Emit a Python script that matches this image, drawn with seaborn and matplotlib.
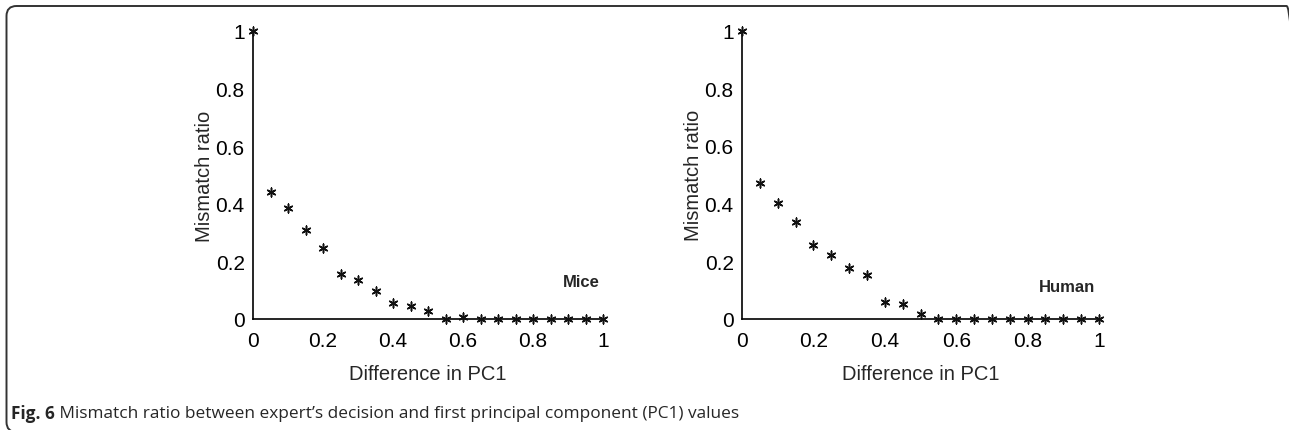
import matplotlib
matplotlib.use("Agg")
import matplotlib.pyplot as plt
from matplotlib.patches import FancyBboxPatch
from matplotlib.ticker import MultipleLocator
import seaborn as sns

# Difference in PC1 (x), shared by both panels
pc1_diff = [0.0, 0.05, 0.1, 0.15, 0.2, 0.25, 0.3, 0.35, 0.4, 0.45, 0.5,
            0.55, 0.6, 0.65, 0.7, 0.75, 0.8, 0.85, 0.9, 0.95, 1.0]

# Mismatch ratio
mice_ratio = [1.0, 0.442, 0.384, 0.31, 0.245, 0.155, 0.136, 0.097, 0.054, 0.046, 0.028,
              0.0, 0.008, 0.0, 0.0, 0.0, 0.0, 0.0, 0.0, 0.0, 0.0]
human_ratio = [1.0, 0.471, 0.401, 0.336, 0.256, 0.22, 0.174, 0.151, 0.058, 0.05, 0.015,
               0.0, 0.0, 0.0, 0.0, 0.0, 0.0, 0.0, 0.0, 0.0, 0.0]

panel_labels = ["Mice", "Human"]
label_heights = [0.13, 0.11]
x_label = "Difference in PC1"
y_label = "Mismatch ratio"
caption_bold = "Fig. 6"
caption_text = " Mismatch ratio between expert\u2019s decision and first principal component (PC1) values"

sns.set_style("white")
plt.rcParams["font.family"] = ["Liberation Sans", "DejaVu Sans"]

W, H = 1289, 431
fig = plt.figure(figsize=(W / 100, H / 100), dpi=100)


def px_axes(x0, x1, y_top, y_bot):
    return fig.add_axes([x0 / W, 1 - y_bot / H, (x1 - x0) / W, (y_bot - y_top) / H])


ax_left = px_axes(253, 603, 32, 320)
ax_right = px_axes(742, 1099, 32, 319.5)

for ax, ratio, name, ly in zip([ax_left, ax_right], [mice_ratio, human_ratio],
                               panel_labels, label_heights):
    sns.scatterplot(x=pc1_diff, y=ratio, ax=ax, marker=(6, 2, 0), color="#111111",
                    s=40, linewidth=1.1, clip_on=False, zorder=3)
    ax.set_xlim(0, 1)
    ax.set_ylim(0, 1)
    sns.despine(ax=ax)
    for side in ["left", "bottom"]:
        ax.spines[side].set_color("black")
        ax.spines[side].set_linewidth(1.2)
    ax.xaxis.set_major_locator(MultipleLocator(0.2))
    ax.xaxis.set_minor_locator(MultipleLocator(0.1))
    ax.yaxis.set_major_locator(MultipleLocator(0.2))
    ax.yaxis.set_minor_locator(MultipleLocator(0.1))
    ax.xaxis.set_major_formatter(lambda v, p: f"{v:g}")
    ax.yaxis.set_major_formatter(lambda v, p: f"{v:g}")
    ax.tick_params(which="both", direction="in", length=4, width=1, color="black",
                   labelsize=15, labelcolor="black")
    ax.tick_params(axis="x", pad=9)
    ax.tick_params(axis="y", pad=6)
    ax.text(0.99, ly, name, transform=ax.transAxes, ha="right", va="center",
            fontsize=12, fontweight="bold")
    ax.set_xlabel(x_label, fontsize=14.5, labelpad=10)
    ax.set_ylabel(y_label, fontsize=14.5, labelpad=1)
    ax.patch.set_alpha(0)

# rounded frame around the figure panel
frame = FancyBboxPatch((0.065, -0.02), 12.9, 4.26,
                       boxstyle="round,pad=0,rounding_size=0.1",
                       transform=fig.dpi_scale_trans, fill=False,
                       edgecolor="#333333", linewidth=1.4)
fig.patches.append(frame)

# caption
t = fig.text(11 / W, 1 - 414 / H, caption_bold, fontsize=12.4, fontweight="bold",
             family=["Open Sans", "DejaVu Sans"], va="center", ha="left")
fig.canvas.draw()
bb = t.get_window_extent()
fig.text(bb.x1 / W, 1 - 414 / H, caption_text, fontsize=12.4,
         family=["Open Sans", "DejaVu Sans"], va="center", ha="left")

fig.savefig("out.png", dpi=100)
